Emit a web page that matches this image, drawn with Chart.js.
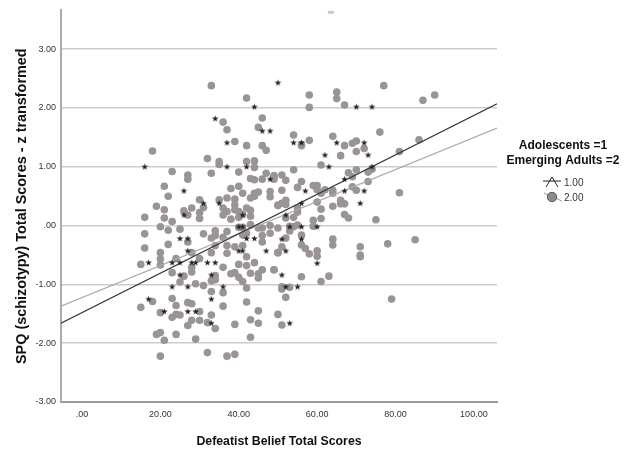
<!DOCTYPE html>
<html>
<head>
<meta charset="utf-8">
<script src="https://cdn.jsdelivr.net/npm/chart.js@4/dist/chart.umd.min.js"></script>
<style>
body { margin: 0; background: #fff; }
canvas { display: block; }
</style>
</head>
<body>
<canvas id="grafico" width="632" height="452"></canvas>
<script>
// values
const xTicks = [0, 20, 40, 60, 80, 100];
const yTicks = [-3, -2, -1, 0, 1, 2, 3];

const adolescentX = [16, 26, 34, 37, 37, 42, 44, 46, 48, 50, 48, 31, 35, 26, 41,
    70, 74, 54, 56, 65, 72, 62, 73, 63, 74, 67, 57, 67, 72, 71, 56, 52,
    25, 27, 27, 17, 23, 25, 28, 29, 32, 34, 25, 33, 23, 27, 36, 17, 33, 21, 27, 29, 33,
    40, 41, 42, 44, 40, 41, 47, 53, 56, 60, 51, 56, 52, 60, 51, 52, 55, 53];
const adolescentY = [1.00, .59, 1.82, 1.41, 1.00, 1.00, 2.02, 1.61, 1.61, 2.43, .79, .38, .38, .18, .18,
    2.02, 2.02, 1.41, 1.41, 1.41, 1.41, 1.20, 1.20, 1.00, 1.00, .79, .59, .59, .59, .38, .38, .18,
    -.22, -.22, -.43, -.63, -.63, -.63, -.63, -.63, -.63, -.63, -.84, -.84, -1.04, -1.04, -1.04, -1.25, -1.25, -1.46, -1.46, -1.46, -1.66,
    -.02, -.02, -.22, -.22, -.43, -.43, -.43, -.02, -.02, -.02, -.23, -.23, -.43, -.64, -.84, -1.04, -1.04, -1.66];

const adultX = [33, 42, 36, 37, 46, 45, 39, 42, 46, 47, 18, 32, 35, 35, 42, 44, 44, 33, 23, 40, 47, 49, 49, 43, 44, 46, 27, 27,
    21, 38, 40, 41, 22, 37, 39, 35, 30, 43, 44, 45, 44, 48, 48, 19, 21, 28, 31, 26, 27, 30, 30, 36, 37, 36, 39, 39, 40, 40, 41, 42, 43, 43, 38, 16, 21, 23, 50, 43, 20,
    77, 90, 87, 58, 65, 65, 67, 58, 76, 54, 58, 64, 56, 56, 67, 69, 70, 72, 70, 66, 86, 81, 61, 54, 49, 51, 52, 56, 68, 70, 74, 73, 69, 73,
    59, 60, 60, 55, 51, 69, 70, 61, 62, 64, 64, 81, 60, 66, 66, 67, 64, 61, 52, 52, 51, 50, 55, 55, 67, 68, 75, 61, 59, 54, 52, 53, 55, 59,
    22, 25, 16, 16, 22, 27, 20, 28, 24, 20, 20, 15, 30, 26, 23, 28, 28, 25, 31, 34, 34, 33, 36, 37, 34, 33, 37, 37, 39, 41, 42, 44, 40, 42, 36, 43, 46, 45, 45, 49, 38, 39, 40, 34, 34, 33, 29, 31, 41, 42, 33, 36, 42, 23, 18, 15, 24, 27, 28, 20, 24, 25, 23, 30, 36, 28, 30, 27, 33, 32, 34, 39, 43, 45, 45, 50, 51,
    19, 20, 21, 24, 29, 43, 20, 32, 37, 39, 40, 41, 45, 46, 48, 50, 48, 46, 46, 42, 41, 50,
    53, 54, 56, 52, 64, 64, 71, 71, 71, 78, 85, 56, 57, 58, 60, 60, 51, 50, 49, 56, 63, 61, 51, 51, 53, 52, 79];
const adultY = [2.38, 2.17, 1.76, 1.63, 1.83, 1.67, 1.43, 1.36, 1.36, 1.28, 1.27, 1.14, 1.09, 1.04, 1.09, 1.10, .99, .89, .92, .91, .89, .85, .79, .80, .78, .79, .86, .79,
    .67, .63, .67, .55, .50, .47, .45, .44, .44, .47, .50, .57, .55, .58, .49, .33, .27, .30, .31, .25, .18, .22, .12, .30, .24, .18, .35, .27, .24, .14, .19, .30, .26, .16, .11, .14, .13, .07, .35, .02, -.02,
    2.38, 2.22, 2.13, 2.22, 2.27, 2.16, 2.05, 2.01, 1.59, 1.54, 1.45, 1.52, 1.36, 1.38, 1.36, 1.40, 1.44, 1.31, 1.26, 1.19, 1.46, 1.26, 1.03, .95, .83, .86, .77, .75, .90, .95, .96, .91, .83, .75,
    .68, .68, .61, .65, .60, .66, .60, .55, .61, .55, .60, .56, .40, .43, .37, .37, .33, .28, .43, .36, .38, .34, .30, .23, .19, .13, .10, .12, .09, .14, .13, -.01, .01, -.01,
    -.08, -.06, -.14, -.38, -.32, -.28, -.46, -.46, -.56, -.57, -.67, -.66, -.56, -.86, -.80, -.71, -.79, -.96, -.14, -.09, -.17, -.21, -.20, -.10, -.34, -.46, -.34, -.47, -.36, -.34, -.53, -.63, -.66, -.68, -.71, -.81, -.75, -.82, -.89, -.75, -.82, -.80, -.88, -.85, -.92, -.94, -.99, -1.02, -.95, -1.06, -1.12, -1.14, -1.30, -1.24, -1.29, -1.39, -1.36, -1.31, -1.33, -1.48, -1.51, -1.52, -1.56, -1.46, -1.37, -1.61, -1.61, -1.70, -1.52, -1.65, -1.75, -1.68, -1.60, -1.45, -1.66, -1.51, -1.69,
    -1.85, -1.82, -1.95, -1.85, -1.93, -1.90, -2.22, -2.16, -2.22, -2.19, -.03, -.03, -.04, -.04, .00, -.04, -.13, -.17, -.28, -.13, -.16, -.46,
    -.09, -.02, -.16, -.21, -.23, -.33, -.36, -.50, -.53, -.31, -.24, -.33, -.39, -.48, -.43, -.52, -.36, -.46, -.75, -.87, -.86, -.95, -1.04, -1.08, -1.05, -1.22, -1.25];

const lineX = [-5.36, 105.9];
const darkLineY = [-1.66, 2.07];
const grayLineY = [-1.37, 1.66];

// little grey mark at the top of the plot
const strayX = [63.5];
const strayY = [3.63];

const toPoints = (xs, ys) => xs.map((x, i) => ({ x: x, y: ys[i] }));
const etiqueta = v => {
    const s = Math.abs(v).toFixed(2).replace(/^0/, '');
    return v < 0 ? '-' + s : s;
};

// filled five point star, used as the point style
function starPath(ctx, cx, cy, r) {
    ctx.beginPath();
    for (let i = 0; i < 10; i++) {
        const rad = i % 2 ? r * 0.4 : r;
        const a = -Math.PI / 2 + i * Math.PI / 5;
        ctx.lineTo(cx + rad * Math.cos(a), cy + rad * Math.sin(a));
    }
    ctx.closePath();
}
const estrella = document.createElement('canvas');
estrella.width = 9;
estrella.height = 9;
const sctx = estrella.getContext('2d');
starPath(sctx, 4.5, 4.7, 3.5);
sctx.fillStyle = '#222';
sctx.fill();

// legend on the right side
const leyenda = {
    id: 'leyenda',
    afterDraw(chart) {
        const ctx = chart.ctx;
        ctx.save();
        ctx.fillStyle = '#111';
        ctx.font = 'bold 12px "Liberation Sans"';
        ctx.textAlign = 'center';
        ctx.textBaseline = 'middle';
        ctx.fillText('Adolescents =1', 563, 146);
        ctx.fillText('Emerging Adults =2', 563, 161);

        ctx.font = '10px "Liberation Sans"';
        ctx.fillStyle = '#333';
        ctx.textAlign = 'left';
        ctx.fillText('1.00', 564, 183);
        ctx.fillText('2.00', 564, 198);

        // star marker
        ctx.strokeStyle = '#222';
        ctx.lineWidth = 1;
        ctx.beginPath();
        ctx.moveTo(543, 181);
        ctx.lineTo(561, 181);
        ctx.moveTo(546, 187);
        ctx.lineTo(552, 177);
        ctx.lineTo(558, 187);
        ctx.stroke();

        // circle marker
        ctx.strokeStyle = '#999';
        ctx.beginPath();
        ctx.moveTo(544, 193);
        ctx.lineTo(562, 201);
        ctx.stroke();
        ctx.beginPath();
        ctx.arc(552, 197, 4.7, 0, Math.PI * 2);
        ctx.fillStyle = '#8f8a8a';
        ctx.fill();
        ctx.strokeStyle = '#555';
        ctx.stroke();
        ctx.restore();
    }
};

new Chart(document.getElementById('grafico').getContext('2d'), {
    type: 'scatter',
    data: {
        datasets: [
            { data: toPoints(adolescentX, adolescentY), pointStyle: estrella, order: 1 },
            { data: toPoints(lineX, darkLineY), showLine: true, borderColor: '#3a3a3a', borderWidth: 1.2, pointRadius: 0, order: 2 },
            { data: toPoints(lineX, grayLineY), showLine: true, borderColor: '#ababab', borderWidth: 1.2, pointRadius: 0, order: 3 },
            { data: toPoints(adultX, adultY), pointStyle: 'circle', pointRadius: 3.8, backgroundColor: '#9a9494', borderWidth: 0, order: 4 },
            { data: toPoints(strayX, strayY), pointStyle: 'line', pointRadius: 3, borderColor: '#c8c8c8', borderWidth: 3, order: 5 }
        ]
    },
    options: {
        responsive: false,
        animation: false,
        layout: { padding: { top: 3, right: 135, left: 0, bottom: 0 } },
        plugins: {
            legend: { display: false },
            tooltip: { enabled: false }
        },
        scales: {
            x: {
                min: -5.36,
                max: 105.9,
                afterBuildTicks: s => { s.ticks = xTicks.map(v => ({ value: v })); },
                afterFit: s => { s.height = 50; },
                grid: { display: false, drawTicks: false },
                border: { color: '#999999', width: 2 },
                ticks: {
                    callback: etiqueta,
                    maxRotation: 0,
                    autoSkip: false,
                    padding: 7,
                    color: '#333',
                    font: { family: 'Liberation Sans', size: 9 }
                },
                title: {
                    display: true,
                    text: 'Defeatist Belief Total Scores',
                    color: '#111',
                    padding: { top: 9, bottom: 3 },
                    font: { family: 'Liberation Sans', size: 12.3, weight: 'bold' }
                }
            },
            y: {
                min: -3,
                max: 3.66,
                afterBuildTicks: s => { s.ticks = yTicks.map(v => ({ value: v })); },
                afterFit: s => { s.width = 61; },
                grid: { color: '#cccccc', lineWidth: 1.5, drawTicks: false },
                border: { color: '#aaaaaa', width: 2 },
                ticks: {
                    callback: etiqueta,
                    autoSkip: false,
                    padding: 5,
                    color: '#333',
                    font: { family: 'Liberation Sans', size: 9 }
                },
                title: {
                    display: true,
                    text: 'SPQ (schizotypy) Total Scores - z transformed',
                    color: '#111',
                    padding: { top: 13, bottom: 0 },
                    font: { family: 'Liberation Sans', size: 14.4, weight: 'bold' }
                }
            }
        }
    },
    plugins: [leyenda]
});
</script>
</body>
</html>
